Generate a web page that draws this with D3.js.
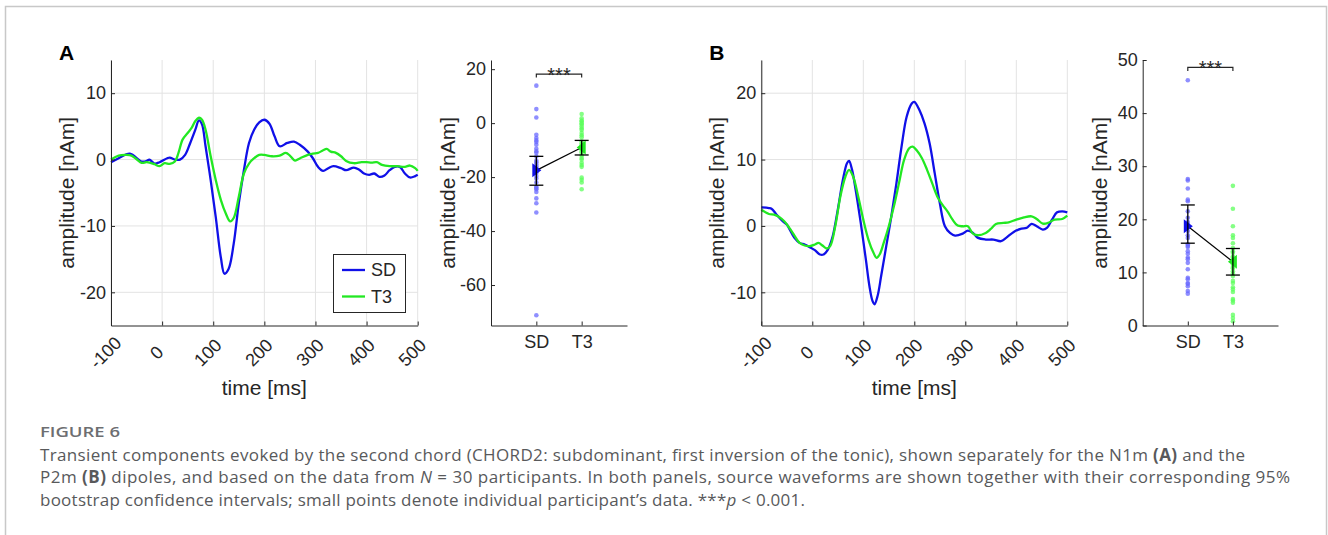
<!DOCTYPE html>
<html>
<head>
<meta charset="utf-8">
<script src="https://cdn.jsdelivr.net/npm/d3@7"></script>
<style>
  body { margin: 0; background: #fff; }
  svg { display: block; }
  .tick text { font-family: "Liberation Sans", Arial, sans-serif; font-size: 18px; fill: #262626; }
  .axis-label { font-family: "Liberation Sans", Arial, sans-serif; font-size: 21px; fill: #262626; }
  .caption { font-family: "Open Sans", sans-serif; font-size: 17px; fill: #58595b; }
</style>
</head>
<body>
<svg id="fig"></svg>
<script>
// waveform samples: [time ms, amplitude nAm]
const n1mSD = [[-100,-0.4],[-85,0.2],[-63,0.9],[-40,-0.3],[-30,-0.2],[-25,0],[-15,-0.6],[-5,-0.4],[10,0.2],[15,0.3],[25,0],[35,0],[45,0.7],[55,2.5],[65,4.5],[72,5.9],[78,5.3],[85,2],[95,-3.1],[105,-8.7],[115,-14.8],[122,-17.2],[130,-16.5],[140,-12.7],[150,-6.6],[160,-1.6],[170,2.5],[180,4.5],[190,5.6],[200,6],[210,5.4],[220,3.5],[230,2],[245,2.5],[258,2.7],[270,2.2],[285,1.2],[295,0.2],[305,-1.1],[315,-1.7],[325,-1.3],[335,-1],[350,-1.3],[360,-1.6],[375,-1.2],[385,-1.5],[395,-2.1],[405,-2.3],[415,-2.1],[425,-2.6],[435,-2.4],[445,-1.6],[455,-1.1],[465,-1.1],[475,-2.1],[485,-2.7],[495,-2.5],[500,-2.3]];
const n1mT3 = [[-100,0],[-85,0.6],[-70,0.7],[-60,0.6],[-50,0.05],[-40,-0.5],[-30,-0.4],[-15,-0.7],[-5,-1],[5,-0.55],[15,-0.65],[25,-0.3],[32,1],[40,3],[50,4],[58,4.8],[65,5.8],[72,6.3],[78,6],[85,4.5],[95,0.5],[105,-3.1],[115,-6.1],[125,-8.2],[133,-9.3],[140,-8.8],[150,-5.6],[160,-2.1],[170,-0.6],[180,0.2],[190,0.7],[200,0.7],[215,0.5],[230,0.6],[242,1],[250,0.6],[260,-0.15],[270,0.2],[285,0.7],[295,0.9],[305,1],[315,1.4],[322,1.6],[330,1.2],[340,1],[350,0.5],[360,-0.2],[375,-0.55],[390,-0.4],[400,-0.4],[410,-0.45],[420,-0.4],[430,-0.8],[445,-1],[460,-1],[475,-1.1],[485,-0.9],[495,-1.3],[500,-1.7]];
const p2mSD = [[-100,2.8],[-85,2.7],[-80,2.6],[-70,1.7],[-60,0.85],[-50,0.2],[-45,-0.45],[-35,-1.8],[-25,-2.55],[-15,-2.8],[-5,-3.2],[5,-3.65],[15,-4.3],[22,-4.3],[30,-3.65],[40,-1.55],[50,2.45],[60,6.95],[68,9.45],[72,9.8],[78,8.45],[85,5.45],[95,0.45],[105,-5.05],[112,-9.05],[118,-11.3],[122,-11.8],[128,-10.55],[135,-7.55],[145,-3.05],[155,1.45],[165,6.45],[175,11.95],[185,16.45],[195,18.45],[200,18.7],[210,17.45],[220,15.45],[230,12.45],[240,7.95],[250,3.45],[260,-0.05],[270,-1.05],[280,-1.45],[295,-1.15],[305,-0.7],[315,-1.05],[325,-1.8],[340,-2.05],[355,-2.05],[370,-2.3],[380,-1.8],[395,-0.9],[410,-0.4],[420,-0.3],[430,0.3],[440,-0.05],[452,-0.55],[460,-0.3],[470,0.95],[480,2.05],[490,2.2],[500,2.05]];
const p2mT3 = [[-100,2.45],[-85,1.8],[-75,1.7],[-65,1.35],[-55,0.7],[-45,-0.3],[-35,-1.45],[-25,-2.55],[-15,-2.95],[-5,-3.05],[5,-2.8],[12,-2.55],[20,-2.95],[28,-3.4],[35,-3.05],[45,-0.05],[55,4.45],[65,7.45],[72,8.45],[80,7.45],[90,4.45],[100,0.95],[110,-2.05],[120,-4.05],[126,-4.8],[132,-4.3],[140,-2.55],[150,-0.05],[160,2.95],[170,6.45],[180,9.95],[190,11.7],[197,11.95],[205,11.35],[215,10.2],[225,8.45],[235,6.45],[245,4.45],[255,3.2],[265,2.2],[275,0.95],[285,0.05],[295,-0.05],[305,-0.05],[315,-1.15],[325,-1.4],[340,-1.05],[350,-0.45],[360,0.3],[375,0.45],[385,0.55],[400,0.95],[415,1.3],[430,1.45],[440,1.05],[452,0.35],[462,0.45],[475,0.95],[490,1.05],[500,1.55]];

// individual participants (N = 30)
const n1mSDpts = [13.9,5.2,2.1,-4.3,-5.5,-6.4,-7,-8,-9.5,-10.4,-11,-12.3,-13.9,-14.5,-15.3,-16,-16.6,-17.8,-18.5,-19.6,-20.5,-22,-23.7,-24,-24.5,-25.5,-27.9,-29.7,-33.1,-71.2];
const n1mT3pts = [3.4,1.8,1,0.6,0,-0.5,-1.2,-2,-2.5,-3.7,-4.5,-5.2,-6.7,-7.5,-8,-8.6,-9.2,-9.8,-10.5,-11,-12,-12.9,-13.5,-14.7,-15.5,-16.2,-20.2,-21,-22,-24.5];
const p2mSDpts = [46.2,27.6,27.3,25.8,23.7,23.4,21.5,20.3,19.5,19,18.5,17.8,17,16.5,15.3,15,14.8,14,13.5,12.8,12.5,11.8,10.6,9,8.7,8,7.8,7.4,6.5,6];
const p2mT3pts = [26.3,22,18.7,17,16.5,15.5,14.6,14,13.7,13,12.8,12.4,12,11.5,11,10.8,10.2,9.8,9.3,8.4,8,7.2,6.8,6.3,5,4.7,4.3,2,1.4,0.8];

// means and 95% bootstrap CI [mean, low, high]
const n1mStats = [[-17.5, -23, -12.3], [-9, -11.8, -6.4]];
const p2mStats = [[18.7, 15.5, 22.7], [12, 9.5, 14.5]];

const conditions = ["SD", "T3"];
const timeTicks = [-100, 0, 100, 200, 300, 400, 500];
const n1mWaveTicks = [-20, -10, 0, 10];
const p2mWaveTicks = [-10, 0, 10, 20];
const n1mPtTicks = [-60, -40, -20, 0, 20];
const p2mPtTicks = [0, 10, 20, 30, 40, 50];

const W = 1328, H = 535;
const blue = "#1010e8", green = "#22e822";
const svg = d3.select("#fig").attr("width", W).attr("height", H);
const plain = (d) => String(d);

svg.append("rect")
  .attr("x", 5.5).attr("y", 6.5).attr("width", 1321).attr("height", 600)
  .attr("fill", "none").attr("stroke", "#c8c8c8").attr("stroke-width", 1.5);

const plotTop = 60, plotBottom = 325.5;

const drawWave = (left, right, yDomain, yTicks, sdData, t3Data, letter, legend) => {
  const g = svg.append("g");
  const x = d3.scaleLinear().domain([-100, 500]).range([left, right]);
  const y = d3.scaleLinear().domain(yDomain).range([plotBottom, plotTop]);

  g.selectAll(".vgrid").data(timeTicks).enter().append("line")
    .attr("x1", (d) => x(d)).attr("x2", (d) => x(d))
    .attr("y1", plotTop).attr("y2", plotBottom)
    .attr("stroke", "#e3e3e3").attr("stroke-width", 1);
  g.selectAll(".hgrid").data(yTicks).enter().append("line")
    .attr("x1", left).attr("x2", right)
    .attr("y1", (d) => y(d)).attr("y2", (d) => y(d))
    .attr("stroke", "#e3e3e3").attr("stroke-width", 1);

  const line = d3.line()
    .x((d) => x(d[0])).y((d) => y(d[1]))
    .curve(d3.curveCatmullRom.alpha(0.5));
  g.append("path").datum(sdData).attr("d", line)
    .attr("fill", "none").attr("stroke", blue).attr("stroke-width", 2.3);
  g.append("path").datum(t3Data).attr("d", line)
    .attr("fill", "none").attr("stroke", green).attr("stroke-width", 2.3);

  const xAxis = g.append("g")
    .attr("transform", "translate(0," + plotBottom + ")")
    .call(d3.axisBottom(x).tickValues(timeTicks).tickFormat(plain)
      .tickSizeInner(-4).tickSizeOuter(0).tickPadding(0));
  // MATLAB-style 45 degree labels, centred below each tick
  xAxis.selectAll(".tick text")
    .attr("text-anchor", "middle")
    .attr("y", 0)
    .attr("dy", "0.35em")
    .attr("transform", "translate(-6,27) rotate(-45)");

  g.append("g")
    .attr("transform", "translate(" + left + ",0)")
    .call(d3.axisLeft(y).tickValues(yTicks).tickFormat(plain)
      .tickSizeInner(-4).tickSizeOuter(0).tickPadding(5));

  g.selectAll(".domain, .tick line").attr("stroke", "#262626");

  g.append("text").attr("class", "axis-label")
    .attr("text-anchor", "middle")
    .attr("x", (left + right) / 2).attr("y", 395)
    .text("time [ms]");
  g.append("text").attr("class", "axis-label")
    .attr("text-anchor", "middle")
    .attr("transform", "translate(" + (left - 37) + "," + (plotTop + plotBottom) / 2 + ") rotate(-90)")
    .text("amplitude [nAm]");

  g.append("text")
    .attr("x", left - 52).attr("y", 60)
    .style("font-family", "Liberation Sans, Arial, sans-serif")
    .style("font-size", "21px").style("font-weight", "bold")
    .text(letter);

  if (legend) {
    const lg = g.append("g").attr("transform", "translate(333,254)");
    lg.append("rect").attr("x", 0.5).attr("y", 0.5).attr("width", 72).attr("height", 58)
      .attr("fill", "#fff").attr("stroke", "#262626").attr("stroke-width", 1);
    [[conditions[0], blue], [conditions[1], green]].forEach((item, i) => {
      lg.append("line").attr("x1", 9).attr("x2", 32)
        .attr("y1", 16 + i * 26.5).attr("y2", 16 + i * 26.5)
        .attr("stroke", item[1]).attr("stroke-width", 2.3);
      lg.append("text").attr("x", 38).attr("y", 16 + i * 26.5).attr("dy", "0.35em")
        .style("font-family", "Liberation Sans, Arial, sans-serif")
        .style("font-size", "18px").style("fill", "#262626")
        .text(item[0]);
    });
  }
};

const drawPoints = (left, right, yDomain, yTicks, sdPts, t3Pts, stats, sigY) => {
  const g = svg.append("g");
  const x = d3.scaleLinear().domain([0, 3]).range([left, right]);
  const y = d3.scaleLinear().domain(yDomain).range([plotBottom, plotTop]);
  const colors = [blue, green];

  [sdPts, t3Pts].forEach((pts, i) => {
    g.selectAll(".dot" + i).data(pts).enter().append("circle")
      .attr("cx", x(i + 1)).attr("cy", (d) => y(d)).attr("r", 2.3)
      .attr("fill", i === 0 ? "#6a6aff" : "#5cff5c").attr("fill-opacity", 0.75);
  });

  g.append("line")
    .attr("x1", x(1)).attr("y1", y(stats[0][0]))
    .attr("x2", x(2)).attr("y2", y(stats[1][0]))
    .attr("stroke", "#000").attr("stroke-width", 1.2);

  stats.forEach((s, i) => {
    const cx = x(i + 1);
    const path = i === 0 ? "M-4,-7L5,0L-4,7Z" : "M4,-7L-5,0L4,7Z";
    g.append("path").attr("d", path)
      .attr("transform", "translate(" + cx + "," + y(s[0]) + ")")
      .attr("fill", colors[i]);
    g.append("line").attr("x1", cx).attr("x2", cx)
      .attr("y1", y(s[1])).attr("y2", y(s[2]))
      .attr("stroke", "#000").attr("stroke-width", 1.3);
    [s[1], s[2]].forEach((v) => {
      g.append("line").attr("x1", cx - 7).attr("x2", cx + 7)
        .attr("y1", y(v)).attr("y2", y(v))
        .attr("stroke", "#000").attr("stroke-width", 1.3);
    });
  });

  const sy = y(sigY);
  g.append("path")
    .attr("d", "M" + x(1) + "," + (sy + 3.5) + "V" + sy + "H" + x(2) + "V" + (sy + 3.5))
    .attr("fill", "none").attr("stroke", "#262626").attr("stroke-width", 1.2);
  g.append("text")
    .attr("x", (x(1) + x(2)) / 2).attr("y", sy + 8)
    .attr("text-anchor", "middle")
    .style("font-family", "Liberation Sans, Arial, sans-serif")
    .style("font-size", "20px").style("fill", "#262626")
    .text("***");

  g.append("g")
    .attr("transform", "translate(0," + plotBottom + ")")
    .call(d3.axisBottom(x).tickValues([1, 2]).tickFormat((d) => conditions[d - 1])
      .tickSizeInner(-4).tickSizeOuter(0).tickPadding(10));
  g.append("g")
    .attr("transform", "translate(" + left + ",0)")
    .call(d3.axisLeft(y).tickValues(yTicks).tickFormat(plain)
      .tickSizeInner(-4).tickSizeOuter(0).tickPadding(5));
  g.selectAll(".domain, .tick line").attr("stroke", "#262626");

  g.append("text").attr("class", "axis-label")
    .attr("text-anchor", "middle")
    .attr("transform", "translate(" + (left - 36) + "," + (plotTop + plotBottom) / 2 + ") rotate(-90)")
    .text("amplitude [nAm]");
};

drawWave(111, 417.7, [-25, 15], n1mWaveTicks, n1mSD, n1mT3, "A", true);
drawPoints(491, 627, [-75, 23.4], n1mPtTicks, n1mSDpts, n1mT3pts, n1mStats, 18.2);
drawWave(761.3, 1067.3, [-15, 25], p2mWaveTicks, p2mSD, p2mT3, "B", false);
drawPoints(1142.7, 1278, [0, 50], p2mPtTicks, p2mSDpts, p2mT3pts, p2mStats, 48.6);

// caption
svg.append("text")
  .attr("x", 40).attr("y", 437)
  .attr("textLength", 80).attr("lengthAdjust", "spacingAndGlyphs")
  .style("font-family", "Open Sans, sans-serif").style("font-size", "15px")
  .style("font-weight", 600).style("fill", "#6d6e71")
  .text("FIGURE 6");

const capLines = [
  [["Transient components evoked by the second chord (CHORD2: subdominant, first inversion of the tonic), shown separately for the N1m ", ""], ["(A)", "b"], [" and the", ""]],
  [["P2m ", ""], ["(B)", "b"], [" dipoles, and based on the data from ", ""], ["N", "i"], [" = 30 participants. In both panels, source waveforms are shown together with their corresponding 95%", ""]],
  [["bootstrap confidence intervals; small points denote individual participant\u2019s data. ***", ""], ["p", "i"], [" < 0.001.", ""]]
];
const capWidths = [1205, 1250, 765];
capLines.forEach((parts, i) => {
  const t = svg.append("text").attr("class", "caption")
    .attr("x", 40).attr("y", 460.5 + i * 22.5)
    .attr("textLength", capWidths[i]).attr("lengthAdjust", "spacing");
  parts.forEach((p) => {
    t.append("tspan")
      .style("font-weight", p[1] === "b" ? 700 : 400)
      .style("font-style", p[1] === "i" ? "italic" : "normal")
      .text(p[0]);
  });
});
</script>
</body>
</html>
